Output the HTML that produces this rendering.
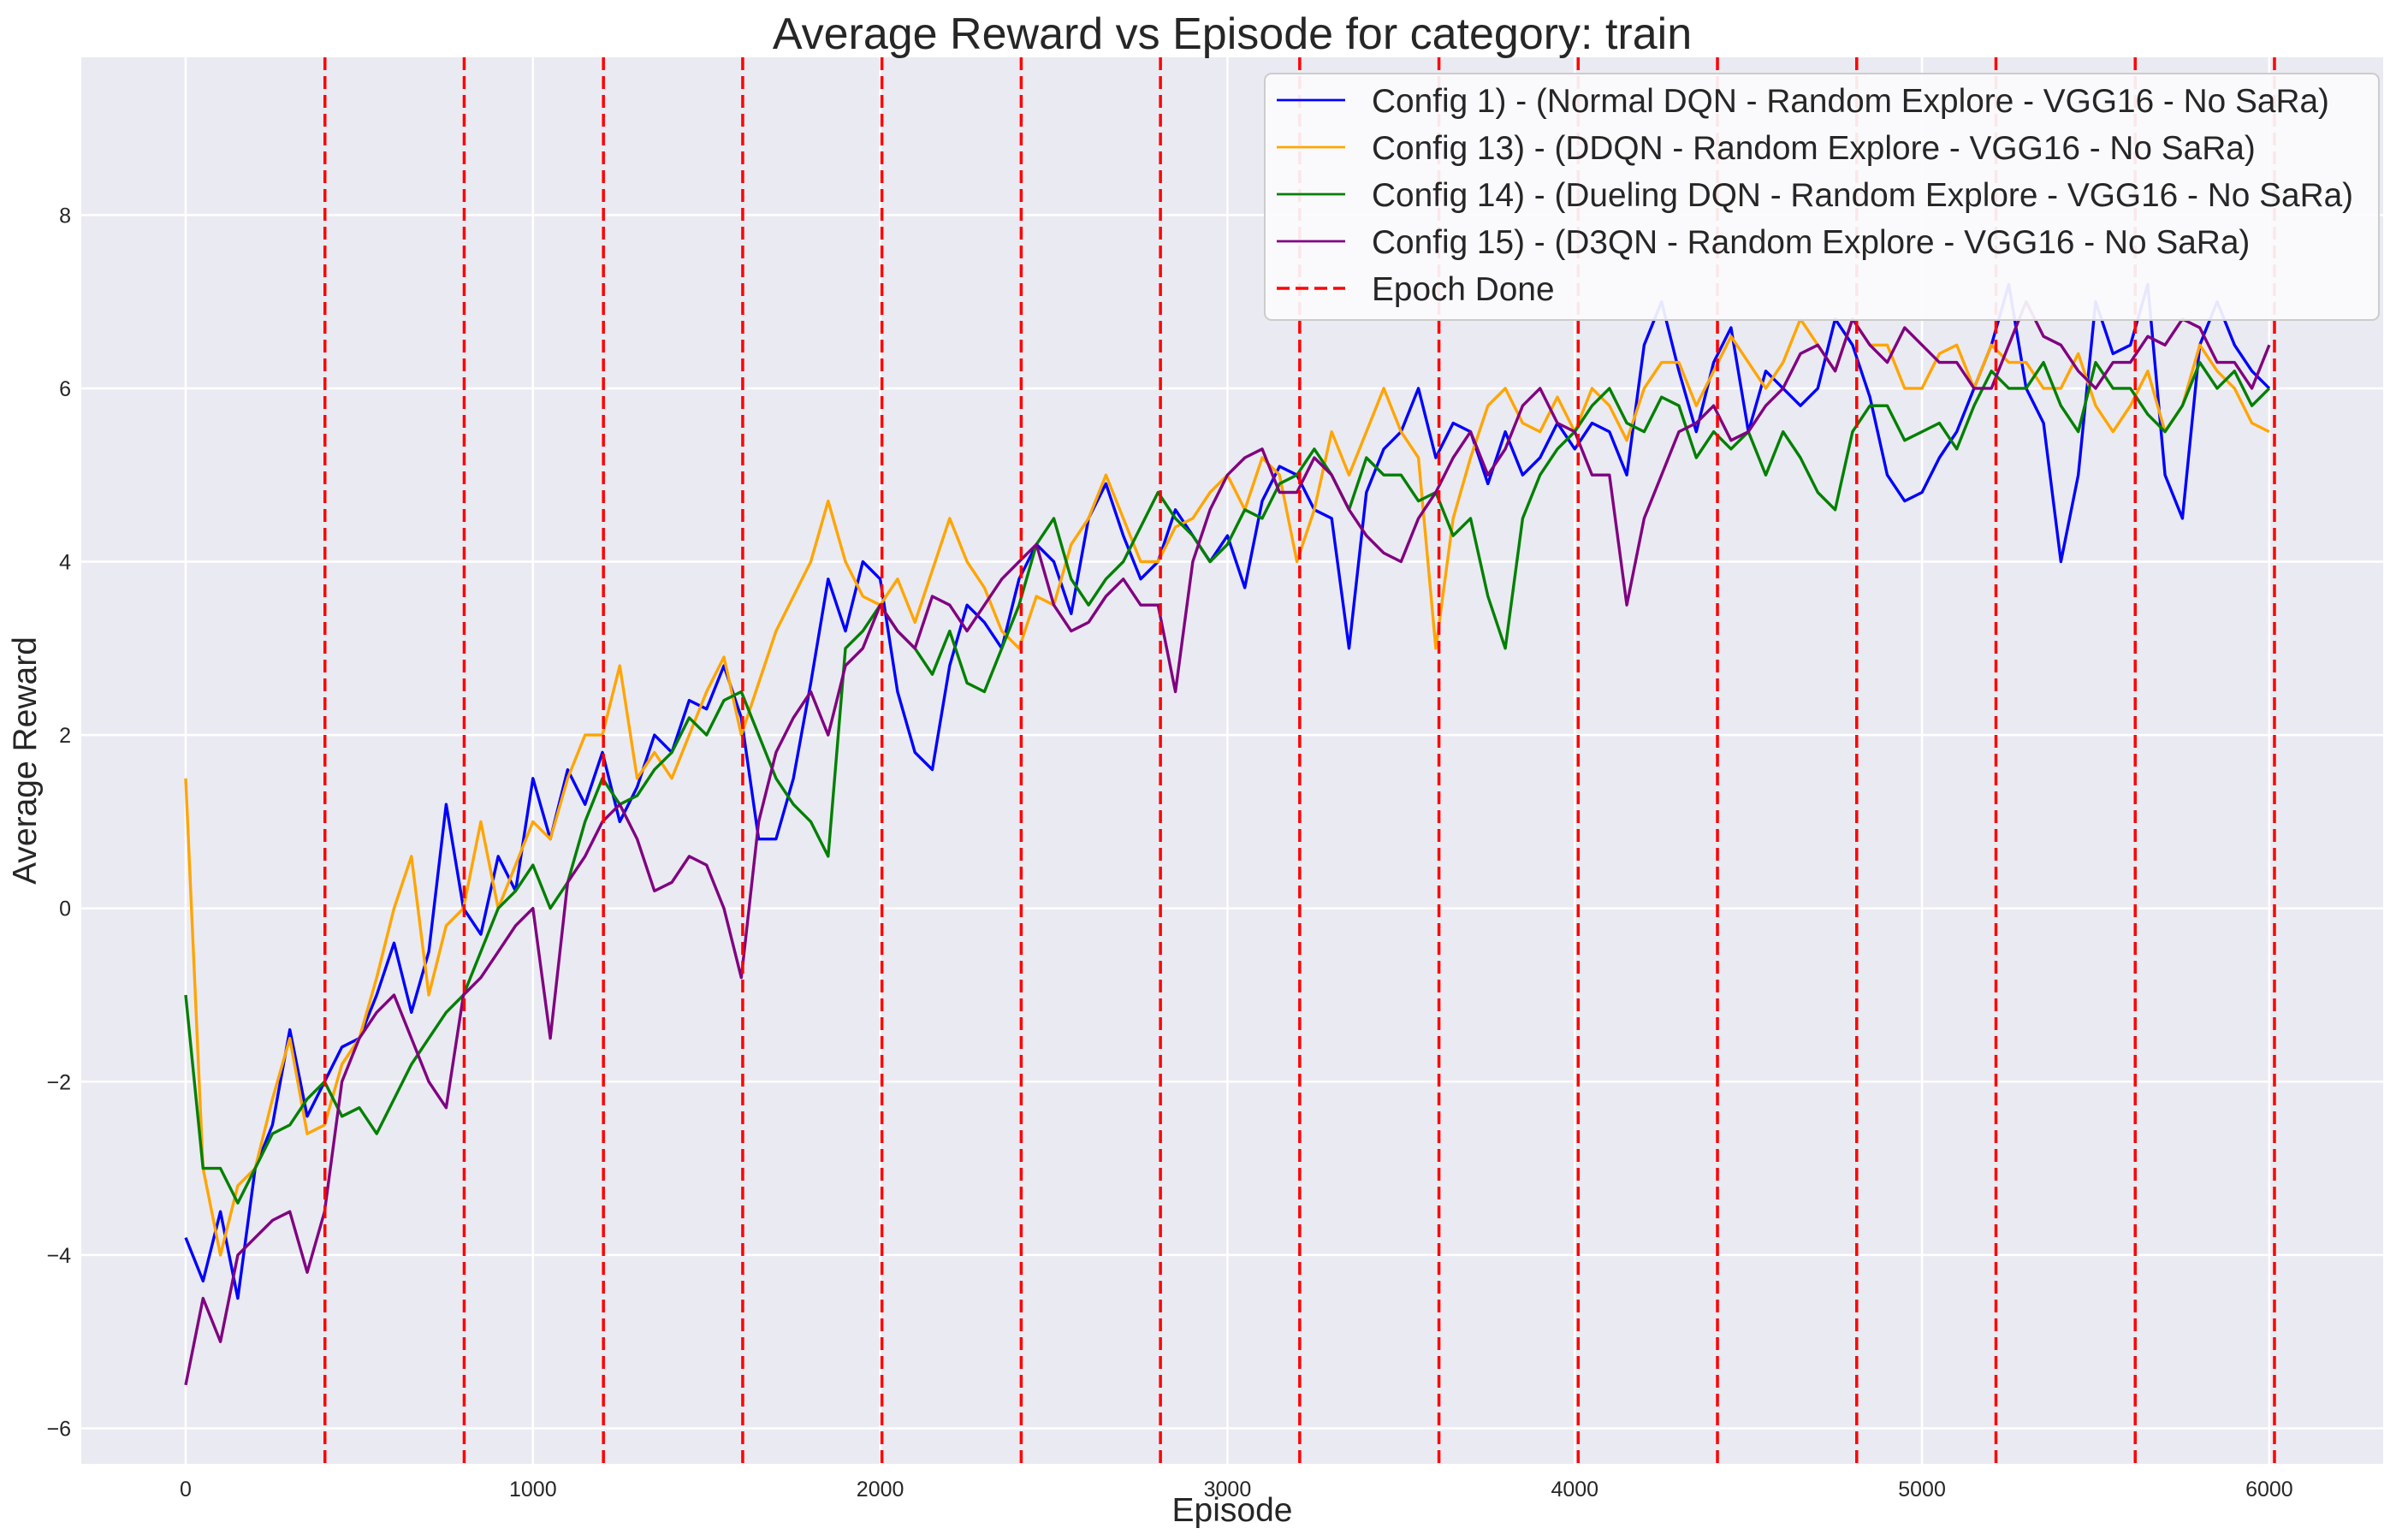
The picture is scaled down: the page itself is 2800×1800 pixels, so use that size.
<!DOCTYPE html>
<html><head><meta charset="utf-8"><style>
html,body{margin:0;padding:0;background:#fff;}
svg{display:block;font-family:"Liberation Sans",Arial,sans-serif;}
</style></head><body>
<svg id="chart" width="2800" height="1800" viewBox="0 0 2800 1800" xmlns="http://www.w3.org/2000/svg"></svg>
<script>
const episodes = [];
for (let e = 0; e <= 6000; e += 50) episodes.push(e);
const config1 = [-3.8,-4.3,-3.5,-4.5,-3.0,-2.5,-1.4,-2.4,-2.0,-1.6,
-1.5,-1.0,-0.4,-1.2,-0.5,1.2,0.0,-0.3,0.6,0.2,
1.5,0.8,1.6,1.2,1.8,1.0,1.4,2.0,1.8,2.4,
2.3,2.8,2.2,0.8,0.8,1.5,2.6,3.8,3.2,4.0,
3.8,2.5,1.8,1.6,2.8,3.5,3.3,3.0,3.8,4.2,
4.0,3.4,4.5,4.9,4.3,3.8,4.0,4.6,4.3,4.0,
4.3,3.7,4.7,5.1,5.0,4.6,4.5,3.0,4.8,5.3,
5.5,6.0,5.2,5.6,5.5,4.9,5.5,5.0,5.2,5.6,
5.3,5.6,5.5,5.0,6.5,7.0,6.2,5.5,6.3,6.7,
5.5,6.2,6.0,5.8,6.0,6.8,6.5,5.9,5.0,4.7,
4.8,5.2,5.5,6.0,6.5,7.2,6.0,5.6,4.0,5.0,
7.0,6.4,6.5,7.2,5.0,4.5,6.5,7.0,6.5,6.2,
6.0];
const config13 = [1.5,-3.0,-4.0,-3.2,-3.0,-2.2,-1.5,-2.6,-2.5,-1.8,
-1.5,-0.8,0.0,0.6,-1.0,-0.2,0.0,1.0,0.0,0.5,
1.0,0.8,1.5,2.0,2.0,2.8,1.5,1.8,1.5,2.0,
2.5,2.9,2.0,2.6,3.2,3.6,4.0,4.7,4.0,3.6,
3.5,3.8,3.3,3.9,4.5,4.0,3.7,3.2,3.0,3.6,
3.5,4.2,4.5,5.0,4.5,4.0,4.0,4.4,4.5,4.8,
5.0,4.6,5.2,5.0,4.0,4.6,5.5,5.0,5.5,6.0,
5.5,5.2,3.0,4.5,5.2,5.8,6.0,5.6,5.5,5.9,
5.5,6.0,5.8,5.4,6.0,6.3,6.3,5.8,6.2,6.6,
6.3,6.0,6.3,6.8,6.5,6.2,6.8,6.5,6.5,6.0,
6.0,6.4,6.5,6.0,6.5,6.3,6.3,6.0,6.0,6.4,
5.8,5.5,5.8,6.2,5.5,5.8,6.5,6.2,6.0,5.6,
5.5];
const config14 = [-1.0,-3.0,-3.0,-3.4,-3.0,-2.6,-2.5,-2.2,-2.0,-2.4,
-2.3,-2.6,-2.2,-1.8,-1.5,-1.2,-1.0,-0.5,0.0,0.2,
0.5,0.0,0.3,1.0,1.5,1.2,1.3,1.6,1.8,2.2,
2.0,2.4,2.5,2.0,1.5,1.2,1.0,0.6,3.0,3.2,
3.5,3.2,3.0,2.7,3.2,2.6,2.5,3.0,3.5,4.2,
4.5,3.8,3.5,3.8,4.0,4.4,4.8,4.5,4.3,4.0,
4.2,4.6,4.5,4.9,5.0,5.3,5.0,4.6,5.2,5.0,
5.0,4.7,4.8,4.3,4.5,3.6,3.0,4.5,5.0,5.3,
5.5,5.8,6.0,5.6,5.5,5.9,5.8,5.2,5.5,5.3,
5.5,5.0,5.5,5.2,4.8,4.6,5.5,5.8,5.8,5.4,
5.5,5.6,5.3,5.8,6.2,6.0,6.0,6.3,5.8,5.5,
6.3,6.0,6.0,5.7,5.5,5.8,6.3,6.0,6.2,5.8,
6.0];
const config15 = [-5.5,-4.5,-5.0,-4.0,-3.8,-3.6,-3.5,-4.2,-3.5,-2.0,
-1.5,-1.2,-1.0,-1.5,-2.0,-2.3,-1.0,-0.8,-0.5,-0.2,
0.0,-1.5,0.3,0.6,1.0,1.2,0.8,0.2,0.3,0.6,
0.5,0.0,-0.8,1.0,1.8,2.2,2.5,2.0,2.8,3.0,
3.5,3.2,3.0,3.6,3.5,3.2,3.5,3.8,4.0,4.2,
3.5,3.2,3.3,3.6,3.8,3.5,3.5,2.5,4.0,4.6,
5.0,5.2,5.3,4.8,4.8,5.2,5.0,4.6,4.3,4.1,
4.0,4.5,4.8,5.2,5.5,5.0,5.3,5.8,6.0,5.6,
5.5,5.0,5.0,3.5,4.5,5.0,5.5,5.6,5.8,5.4,
5.5,5.8,6.0,6.4,6.5,6.2,6.8,6.5,6.3,6.7,
6.5,6.3,6.3,6.0,6.0,6.5,7.0,6.6,6.5,6.2,
6.0,6.3,6.3,6.6,6.5,6.8,6.7,6.3,6.3,6.0,
6.5];
const epochEpisodes = [401,802,1203,1604,2005,2406,2807,3208,3609,4010,4411,4812,5213,5614,6015];
const xTicks = [0,1000,2000,3000,4000,5000,6000];
const yTicks = [-6,-4,-2,0,2,4,6,8];
const seriesNames = ["Config 1) - (Normal DQN - Random Explore - VGG16 - No SaRa)","Config 13) - (DDQN - Random Explore - VGG16 - No SaRa)","Config 14) - (Dueling DQN - Random Explore - VGG16 - No SaRa)","Config 15) - (D3QN - Random Explore - VGG16 - No SaRa)"];

const PL=95, PR=2785, PT=67, PB=1711;
const XMIN=-300.6, XMAX=6328, YMIN=-6.41, YMAX=9.82;
const sx = v => PL + (v - XMIN) / (XMAX - XMIN) * (PR - PL);
const sy = v => PB - (v - YMIN) / (YMAX - YMIN) * (PB - PT);
const NS="http://www.w3.org/2000/svg";
const svg=document.getElementById('chart');
function mk(tag, attrs, parent){const el=document.createElementNS(NS,tag);for(const k in attrs)el.setAttribute(k,attrs[k]);(parent||svg).appendChild(el);return el;}

let el;
el=mk('rect',{x:PL,y:PT,width:PR-PL,height:PB-PT,fill:'#eaeaf2'});



xTicks.forEach(t=>{
  el=mk('line',{x1:sx(t),x2:sx(t),y1:PT,y2:PB,stroke:'#fff','stroke-width':2.5});
  
  
  el=mk('text',{x:sx(t),y:PB+38,'font-size':25,fill:'#262626','text-anchor':'middle'});
  el.textContent=t;
  
  
});
yTicks.forEach(t=>{
  el=mk('line',{x1:PL,x2:PR,y1:sy(t),y2:sy(t),stroke:'#fff','stroke-width':2.5});
  
  
  el=mk('text',{x:PL-12,y:sy(t)+9,'font-size':25,fill:'#262626','text-anchor':'end'});
  el.textContent=t<0?'\u2212'+Math.abs(t):t;
  
  
});

const colors=['#0000ff','#ffa500','#008000','#800080'];
const allSeries=[config1,config13,config14,config15];
const seriesKeys=['config-1','config-13','config-14','config-15'];
allSeries.forEach((vals,i)=>{
  const d=vals.map((v,j)=>(j?'L':'M')+sx(episodes[j]).toFixed(1)+' '+sy(v).toFixed(1)).join(' ');
  el=mk('path',{d:d,fill:'none',stroke:colors[i],'stroke-width':3.4,'stroke-linejoin':'round'});
  
  
});

epochEpisodes.forEach(e=>{
  el=mk('line',{x1:sx(e),x2:sx(e),y1:PT,y2:PB,stroke:'#ff0000','stroke-width':3.5,'stroke-dasharray':'15 7'});
  
  
});

const lg=mk('g',{});


el=mk('rect',{x:1478,y:86,width:1302,height:288,rx:8,fill:'#fbfbfd','fill-opacity':0.92,stroke:'#cccccc','stroke-width':2},lg);


const rowY=[117,172,227,282,337];
const legendLabels=seriesNames.concat(['Epoch Done']);
const legendColors=colors.concat(['#ff0000']);
legendLabels.forEach((lab,i)=>{
  const attrs={x1:1492,x2:1572,y1:rowY[i],y2:rowY[i],stroke:legendColors[i],'stroke-width':i===4?3.5:2.8};
  if(i===4) attrs['stroke-dasharray']='15 7';
  el=mk('line',attrs,lg);
  
  
  el=mk('text',{x:1603,y:rowY[i]+14,'font-size':38.8,fill:'#262626'},lg);
  el.textContent=lab;
  
  
});

el=mk('text',{x:(PL+PR)/2,y:57,'font-size':52,fill:'#262626','text-anchor':'middle'});
el.textContent='Average Reward vs Episode for category: train';


el=mk('text',{x:(PL+PR)/2,y:1778,'font-size':39,fill:'#262626','text-anchor':'middle'});
el.textContent='Episode';


el=mk('text',{x:0,y:0,'font-size':39,fill:'#262626','text-anchor':'middle',transform:'translate(42,'+((PT+PB)/2)+') rotate(-90)'});
el.textContent='Average Reward';


</script>
</body></html>
